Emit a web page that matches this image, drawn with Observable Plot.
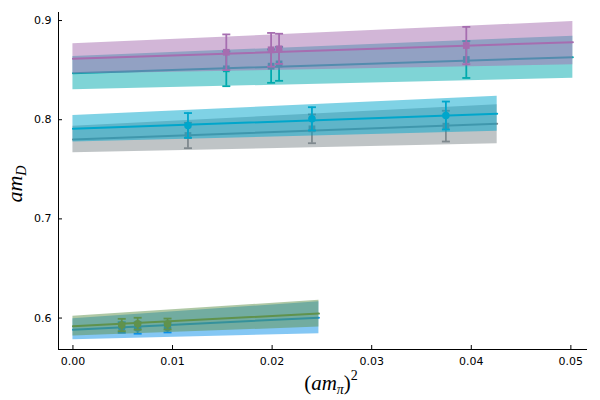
<!DOCTYPE html>
<html>
<head>
<meta charset="utf-8">
<script src="https://cdn.jsdelivr.net/npm/d3@7"></script>
<script src="https://cdn.jsdelivr.net/npm/@observablehq/plot@0.6"></script>
<style>
  html, body { margin: 0; padding: 0; background: #ffffff; }
</style>
</head>
<body>
<div id="chart"></div>
<script>
// ---- data ----
const seriesNames = ["blue", "green", "gray", "cyan", "teal", "purple"];

// fit bands: x at start / end, centre line and lower / upper edge
const fitX   = [[0, 0.0247], [0, 0.0247], [0, 0.0426], [0, 0.0426], [0, 0.0502], [0, 0.0502]];
const fitMid = [[0.5882, 0.6004], [0.5918, 0.6045], [0.7800, 0.7959], [0.7908, 0.8060], [0.8469, 0.8630], [0.8614, 0.8782]];
const fitLo  = [[0.5781, 0.5842], [0.5818, 0.5910], [0.7666, 0.7757], [0.7774, 0.7883], [0.8301, 0.8418], [0.8460, 0.8553]];
const fitHi  = [[0.5992, 0.6164], [0.6019, 0.6180], [0.7934, 0.8150], [0.8042, 0.8237], [0.8637, 0.8842], [0.8765, 0.8990]];

// data points with error bars
const ptX   = [[0.0049, 0.0065, 0.0095], [0.0049, 0.0065, 0.0095],
               [0.01155, 0.0240, 0.03745], [0.01155, 0.0240, 0.03745],
               [0.0154, 0.0199, 0.0207, 0.0395], [0.0154, 0.0199, 0.0207, 0.0395]];
const ptY   = [[0.5905, 0.5900, 0.5905], [0.5930, 0.5943, 0.5940],
               [0.7841, 0.7908, 0.7935], [0.7942, 0.8009, 0.8042],
               [0.8513, 0.8540, 0.8563, 0.8607], [0.8680, 0.8705, 0.8715, 0.8748]];
const ptErr = [[0.0053, 0.0058, 0.0050], [0.0062, 0.0060, 0.0055],
               [0.0128, 0.0145, 0.0155], [0.0125, 0.0117, 0.0141],
               [0.0175, 0.0168, 0.0171, 0.0186], [0.0180, 0.0170, 0.0152, 0.0188]];

const xTicks = [0, 0.01, 0.02, 0.03, 0.04, 0.05];
const yTicks = [0.6, 0.7, 0.8, 0.9];
const xDomain = [-0.00145, 0.05167];
const yDomain = [0.5683, 0.9081];

// ---- styling ----
const colors  = {blue: "#0a90ea", green: "#60924c", gray: "#7f898e", cyan: "#00a6cb", teal: "#00aaad", purple: "#a66db0"};
const symbols = {blue: "circle", green: "circle", gray: "square", cyan: "circle", teal: "square", purple: "square"};

const capSymbol = {
  draw(ctx, size) {
    const r = Math.sqrt(size / Math.PI);
    ctx.moveTo(-r, 0);
    ctx.lineTo(r, 0);
  }
};

const fitRows = seriesNames.flatMap((s, i) =>
  fitX[i].map((x, j) => ({s, x, y: fitMid[i][j], lo: fitLo[i][j], hi: fitHi[i][j]})));
const ptRows = seriesNames.flatMap((s, i) =>
  ptX[i].map((x, j) => ({s, x, y: ptY[i][j], err: ptErr[i][j]})));

const marks = [];
for (const s of seriesNames) {
  const f = fitRows.filter(d => d.s === s);
  const p = ptRows.filter(d => d.s === s);
  const c = colors[s];
  marks.push(
    Plot.areaY(f, {x: "x", y1: "lo", y2: "hi", fill: c, fillOpacity: 0.5}),
    Plot.line(f, {x: "x", y: "y", stroke: c, strokeWidth: 2}),
    Plot.ruleX(p, {x: "x", y1: d => d.y - d.err, y2: d => d.y + d.err, stroke: c, strokeWidth: 1.8}),
    Plot.dot(p, {x: "x", y: d => d.y + d.err, symbol: capSymbol, r: 4, stroke: c, strokeWidth: 1.8, fill: "none"}),
    Plot.dot(p, {x: "x", y: d => d.y - d.err, symbol: capSymbol, r: 4, stroke: c, strokeWidth: 1.8, fill: "none"}),
    Plot.dot(p, {x: "x", y: "y", symbol: symbols[s], r: 3.8, fill: c, stroke: "none"})
  );
}

const plot = Plot.plot({
  width: 600,
  height: 400,
  marginLeft: 58,
  marginRight: 13,
  marginTop: 12,
  marginBottom: 51,
  style: {fontFamily: "DejaVu Sans", fontSize: "11px", color: "#000", background: "#fff", overflow: "visible"},
  x: {domain: xDomain},
  y: {domain: yDomain},
  marks: [
    ...marks,
    Plot.axisX(xTicks, {tickFormat: d3.format(".2f"), tickSize: -4, tickPadding: 12, label: null, stroke: "#000"}),
    Plot.axisY(yTicks, {tickFormat: d3.format(".1f"), tickSize: -4, tickPadding: 11, label: null, stroke: "#000"}),
    Plot.ruleX([xDomain[0]], {stroke: "#000", strokeWidth: 1}),
    Plot.ruleY([yDomain[0]], {stroke: "#000", strokeWidth: 1})
  ]
});

// axis titles with math styling
const svg = d3.select(plot);
const serif = "'Liberation Serif', 'DejaVu Serif', serif";
const xl = svg.append("text")
  .attr("x", 331).attr("y", 390)
  .attr("text-anchor", "middle")
  .attr("font-family", serif)
  .attr("font-size", 21)
  .attr("fill", "#000");
xl.append("tspan").text("(");
xl.append("tspan").attr("font-style", "italic").text("am");
xl.append("tspan").attr("font-style", "italic").attr("font-size", 14).attr("dy", 4).text("π");
xl.append("tspan").attr("dy", -4).text(")");
xl.append("tspan").attr("font-size", 14).attr("dy", -10).text("2");

const yl = svg.append("text")
  .attr("transform", "translate(22,184) rotate(-90)")
  .attr("text-anchor", "middle")
  .attr("font-family", serif)
  .attr("font-size", 22)
  .attr("fill", "#000");
yl.append("tspan").attr("font-style", "italic").text("am");
yl.append("tspan").attr("font-style", "italic").attr("font-size", 14).attr("dy", 4).text("D");

document.getElementById("chart").appendChild(plot);
</script>
</body>
</html>
